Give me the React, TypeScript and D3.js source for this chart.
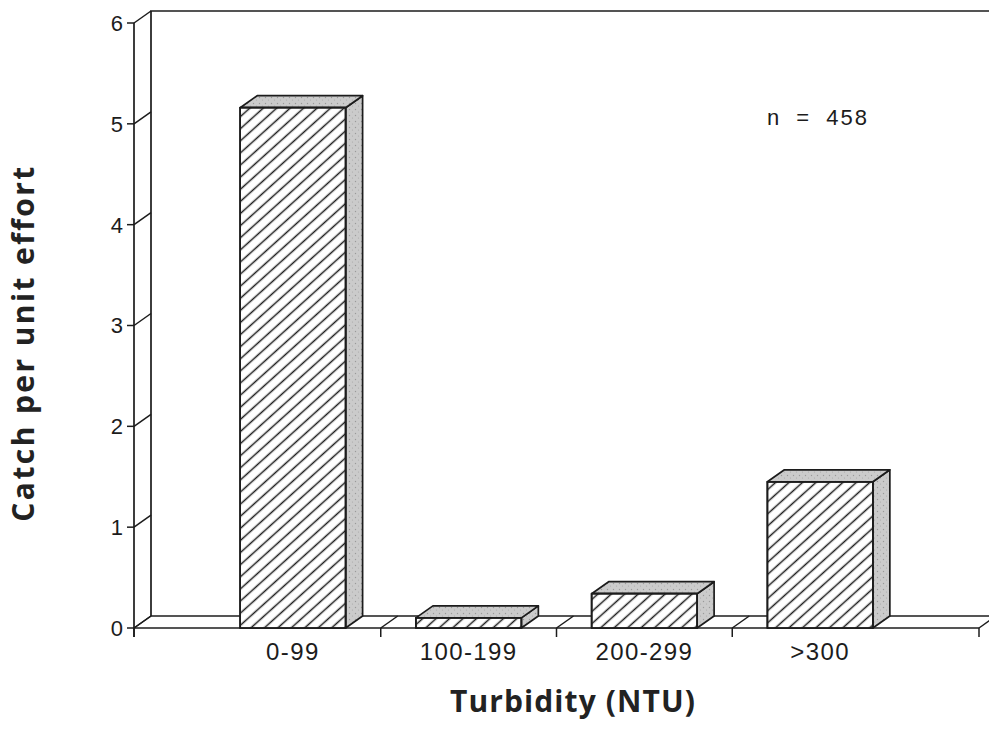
import React from 'react';
import * as d3 from 'd3';

// Catch per unit effort by turbidity class
const categories: string[] = ['0-99', '100-199', '200-299', '>300'];
const cpue: number[] = [5.16, 0.1, 0.34, 1.45];
const yTicks: number[] = [0, 1, 2, 3, 4, 5, 6];
const sampleNote = 'n = 458';
const xTitle = 'Turbidity (NTU)';
const yTitle = 'Catch per unit effort';

const W = 989;
const H = 729;
// front edge of the plot box and the 3-D depth offset
const frontLeft = 134;
const frontRight = 979;
const baseY = 628;
const topY = 23;
const dx = 17;
const dy = -12;

const INK = '#1c1c1c';
const SANS = '"Liberation Sans", Arial, Helvetica, sans-serif';
const TITLE = '"Open Sans", "Noto Sans", sans-serif';

export default function App() {
  const y = d3.scaleLinear().domain([0, 6]).range([baseY, topY]);
  const x = d3
    .scaleBand<string>()
    .domain(categories)
    .range([205, 908])
    .paddingInner(0.4)
    .paddingOuter(0.2);
  const bw = x.bandwidth();
  const gap = x.step() - bw;

  // tick marks along the floor: the two ends plus the gaps between bars
  const xTicks: number[] = [
    frontLeft,
    ...categories.slice(0, -1).map((c) => (x(c) as number) + bw + gap / 2),
    frontRight,
  ];

  const line = d3.line<[number, number]>();

  return (
    <svg
      width={W}
      height={H}
      viewBox={`0 0 ${W} ${H}`}
      style={{ position: 'absolute', left: 0, top: 0, background: '#fff' }}
    >
      <defs>
        <pattern
          id="hatch"
          patternUnits="userSpaceOnUse"
          width={40}
          height={9}
          patternTransform="rotate(-42)"
        >
          <line x1={0} y1={4.5} x2={40} y2={4.5} stroke={INK} strokeWidth={1.5} />
        </pattern>
        <pattern id="stipple" patternUnits="userSpaceOnUse" width={6} height={6}>
          <rect width={6} height={6} fill="#cbcbcb" />
          <circle cx={1.5} cy={1.5} r={0.7} fill="#9a9a9a" />
          <circle cx={4.5} cy={4} r={0.6} fill="#a8a8a8" />
        </pattern>
      </defs>

      {/* back wall */}
      <g stroke={INK} strokeWidth={1.7} fill="none">
        <path d={line([[frontLeft + dx, baseY + dy], [frontLeft + dx, topY + dy], [W, topY + dy]]) as string} />
        {/* floor */}
        <path d={line([[frontLeft + dx, baseY + dy], [W, baseY + dy]]) as string} />
        <path d={line([[frontLeft, baseY], [frontRight, baseY]]) as string} />
        {/* y axis front edge */}
        <path d={line([[frontLeft, topY], [frontLeft, baseY + 9]]) as string} />
      </g>

      {/* y ticks with side-wall connectors */}
      <g stroke={INK} strokeWidth={1.5} fill="none">
        {yTicks.map((v) => (
          <g key={v}>
            <path d={line([[frontLeft - 7, y(v)], [frontLeft, y(v)]]) as string} />
            <path d={line([[frontLeft, y(v)], [frontLeft + dx, y(v) + dy]]) as string} />
          </g>
        ))}
      </g>
      <g fontFamily={SANS} fontSize={22} fill={INK} textAnchor="end">
        {yTicks.map((v) => (
          <text key={v} x={frontLeft - 11} y={y(v)} dy="0.36em">
            {v}
          </text>
        ))}
      </g>

      {/* x ticks with floor connectors */}
      <g stroke={INK} strokeWidth={1.5} fill="none">
        {xTicks.map((t, i) => (
          <g key={i}>
            <path d={line([[t, baseY], [t, baseY + 9]]) as string} />
            <path d={line([[t, baseY], [t + dx, baseY + dy]]) as string} />
          </g>
        ))}
      </g>

      {/* bars */}
      <g stroke={INK} strokeWidth={1.7} strokeLinejoin="round">
        {categories.map((c, i) => {
          const x0 = x(c) as number;
          const x1 = x0 + bw;
          const yt = y(cpue[i]);
          const side: [number, number][] = [
            [x1, baseY],
            [x1, yt],
            [x1 + dx, yt + dy],
            [x1 + dx, baseY + dy],
          ];
          const top: [number, number][] = [
            [x0, yt],
            [x0 + dx, yt + dy],
            [x1 + dx, yt + dy],
            [x1, yt],
          ];
          return (
            <g key={c}>
              <path d={(line(side) as string) + 'Z'} fill="url(#stipple)" />
              <path d={(line(top) as string) + 'Z'} fill="url(#stipple)" />
              <rect x={x0} y={yt} width={bw} height={baseY - yt} fill="#fff" />
              <rect x={x0} y={yt} width={bw} height={baseY - yt} fill="url(#hatch)" />
            </g>
          );
        })}
      </g>

      {/* category labels */}
      <g fontFamily={SANS} fontSize={24} fill={INK} textAnchor="middle">
        {categories.map((c) => (
          <text key={c} x={(x(c) as number) + bw / 2} y={660} letterSpacing={1.4}>
            {c}
          </text>
        ))}
      </g>

      <text
        x={767}
        y={125}
        fontFamily={SANS}
        fontSize={22}
        fill={INK}
        wordSpacing={7}
        letterSpacing={2}
      >
        {sampleNote}
      </text>

      <text
        x={573}
        y={712}
        fontFamily={TITLE}
        fontWeight={700}
        fontSize={30}
        fill="#222"
        textAnchor="middle"
        letterSpacing={1.1}
      >
        {xTitle}
      </text>
      <text
        transform="translate(34,343) rotate(-90)"
        fontFamily={TITLE}
        fontWeight={700}
        fontSize={30}
        fill="#222"
        textAnchor="middle"
        letterSpacing={2.4}
      >
        {yTitle}
      </text>
    </svg>
  );
}
